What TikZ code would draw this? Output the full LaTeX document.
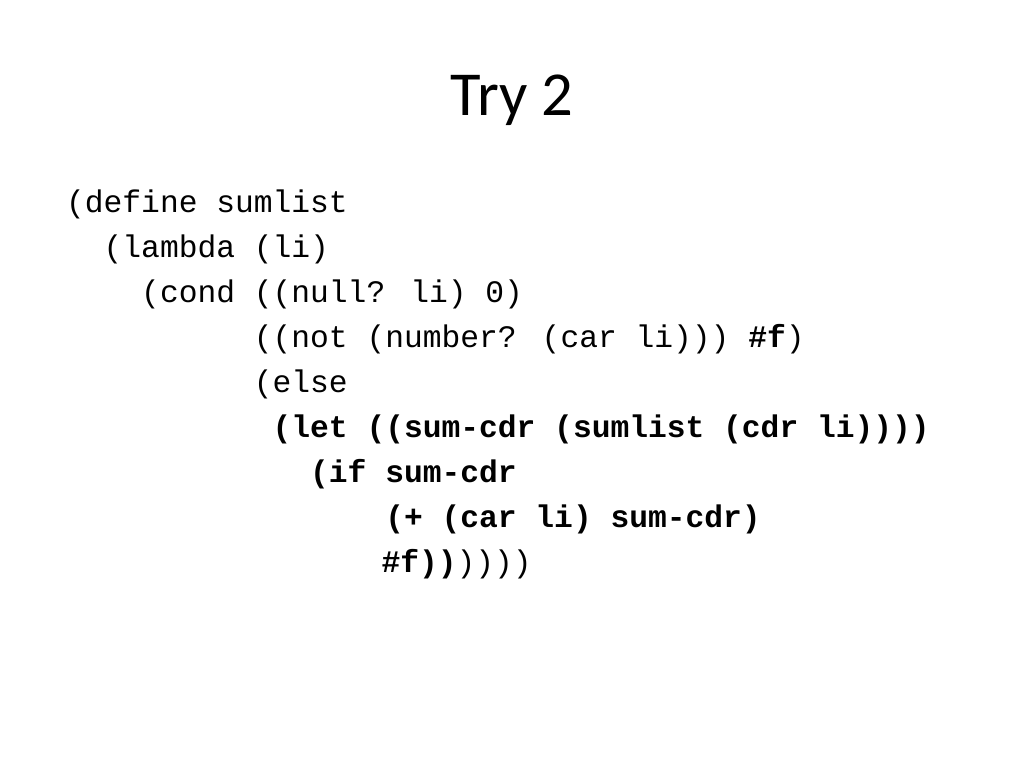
\documentclass[tikz,border=0pt]{standalone}
\usepackage{fontspec}
\setmainfont{Carlito}
\newfontfamily\codefont{Liberation Mono}
\begin{document}
\begin{tikzpicture}[x=1pt,y=1pt,
  codeline/.style={anchor=base west,inner sep=0pt,font=\codefont\fontsize{22}{26}\selectfont},
  titletext/.style={anchor=base,inner sep=0pt,font=\fontsize{44}{52}\selectfont}]
\useasboundingbox[fill=white] (0,0) rectangle (720,-540);
\def\cw{13.2}
\def\lx{46.3}
\def\ly{-149.1}
\def\ls{31.64}
\node[titletext] (title) at (360,-80.9) {Try 2};
\node[codeline] (l1) at (\lx+0*\cw,\ly-0*\ls) {(define sumlist};
\node[codeline] (l2) at (\lx+2*\cw,\ly-1*\ls) {(lambda (li)};
\node[codeline] (l3) at (\lx+4*\cw,\ly-2*\ls) {(cond ((null? li) 0)};
\node[codeline] (l4) at (\lx+10*\cw,\ly-3*\ls) {((not (number? (car li))) \textbf{\#f})};
\node[codeline] (l5) at (\lx+10*\cw,\ly-4*\ls) {(else};
\node[codeline] (l6) at (\lx+11*\cw,\ly-5*\ls) {\textbf{(let ((sum-cdr (sumlist (cdr li))))}};
\node[codeline] (l7) at (\lx+13*\cw,\ly-6*\ls) {\textbf{(if sum-cdr}};
\node[codeline] (l8) at (\lx+17*\cw,\ly-7*\ls) {\textbf{(+ (car li) sum-cdr)}};
\node[codeline] (l9) at (\lx+16.8*\cw,\ly-8*\ls) {\textbf{\#f))}))))};
\end{tikzpicture}
\end{document}
